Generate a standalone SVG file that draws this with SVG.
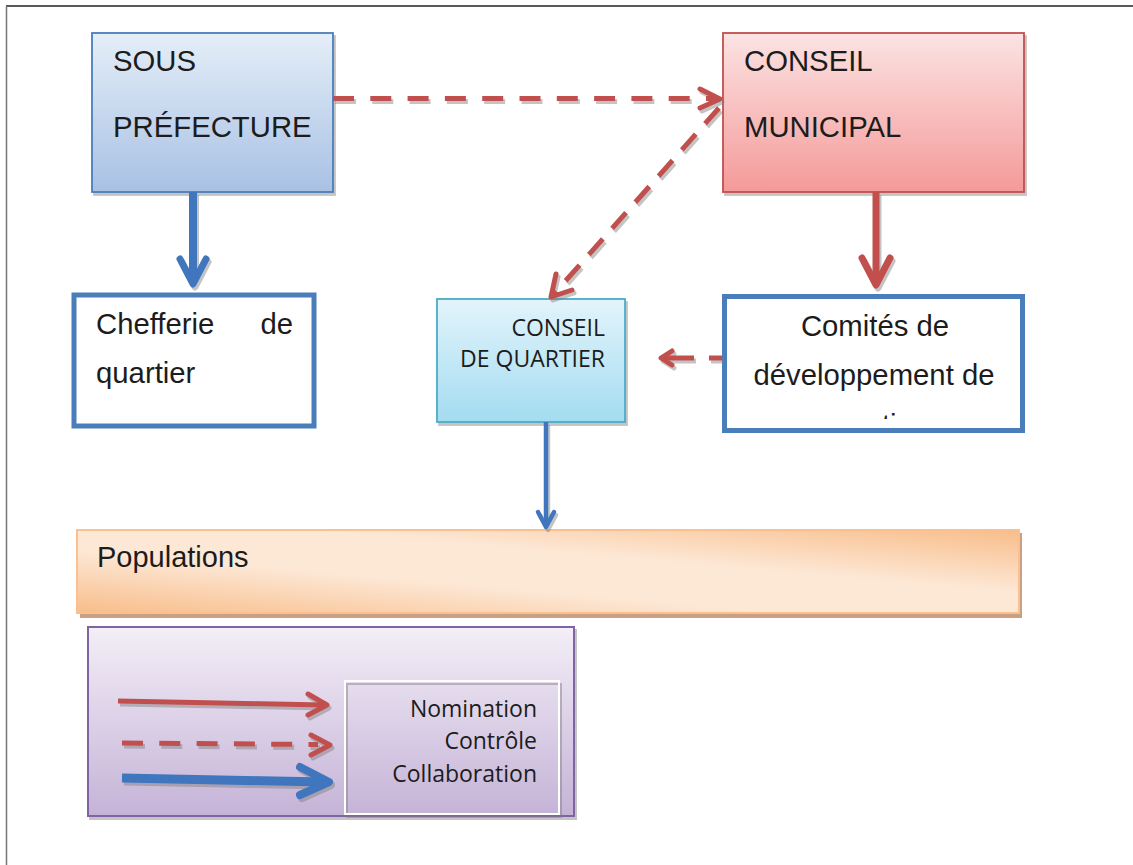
<svg xmlns="http://www.w3.org/2000/svg" width="1133" height="865" viewBox="0 0 1133 865">
<defs>
  <linearGradient id="gBlue" x1="0" y1="0" x2="0" y2="1">
    <stop offset="0" stop-color="#e5eef8"/>
    <stop offset="1" stop-color="#a8c1e4"/>
  </linearGradient>
  <linearGradient id="gRed" x1="0" y1="0" x2="0" y2="1">
    <stop offset="0" stop-color="#fce3e3"/>
    <stop offset="1" stop-color="#f49a99"/>
  </linearGradient>
  <linearGradient id="gCyan" x1="0" y1="0" x2="0" y2="1">
    <stop offset="0" stop-color="#e3f4fb"/>
    <stop offset="1" stop-color="#a3dcf1"/>
  </linearGradient>
  <linearGradient id="gPurple" x1="0" y1="0" x2="0" y2="1">
    <stop offset="0" stop-color="#f3eef7"/>
    <stop offset="1" stop-color="#c5b3d7"/>
  </linearGradient>
  <linearGradient id="gOrange" x1="0" y1="1" x2="1" y2="0">
    <stop offset="0" stop-color="#f8bd8a"/>
    <stop offset="0.38" stop-color="#fde8d6"/>
    <stop offset="0.62" stop-color="#fde8d6"/>
    <stop offset="1" stop-color="#f8bd8a"/>
  </linearGradient>
  <filter id="sh" x="-10%" y="-10%" width="130%" height="140%">
    <feDropShadow dx="2" dy="3" stdDeviation="0.6" flood-color="#7a7a7a" flood-opacity="0.45"/>
  </filter>
  <clipPath id="clipCom">
    <rect x="727" y="299" width="293" height="120"/>
  </clipPath>
</defs>
<style>
  .txt { font-family: "Liberation Sans", Arial, sans-serif; font-size: 29.3px; fill: #1c1c1c; }
  .cal { font-family: "Open Sans", "Noto Sans", sans-serif; font-size: 23px; fill: #1c1c1c; }
  .leg { font-family: "Open Sans", "Noto Sans", sans-serif; font-size: 23px; fill: #1c1c1c; }
  .r { stroke: #c0504d; fill: none; }
  .b { stroke: #3f76bd; fill: none; }
  .dash { stroke-dasharray: 21 16.3; }
  .head { stroke-linecap: round; stroke-linejoin: round; fill: none; }
  .sh { filter: url(#sh); }
</style>

<g id="frame">
  <line x1="6" y1="6" x2="1133" y2="6" stroke="#222" stroke-width="1.5"/>
  <line x1="6.5" y1="6" x2="6.5" y2="865" stroke="#777" stroke-width="1.5"/>
</g>

<g id="sous-prefecture">
  <rect x="92" y="33" width="241" height="159" fill="url(#gBlue)" stroke="#4a7ebb" stroke-width="1.8" class="sh"/>
  <text class="txt" x="113" y="71">SOUS</text>
  <text class="txt" x="113" y="137">PRÉFECTURE</text>
</g>

<g id="conseil-municipal">
  <rect x="723" y="33" width="301" height="159" fill="url(#gRed)" stroke="#c0504d" stroke-width="1.8" class="sh"/>
  <text class="txt" x="744" y="71">CONSEIL</text>
  <text class="txt" x="744" y="137">MUNICIPAL</text>
</g>

<g id="chefferie">
  <rect x="74" y="295" width="240" height="131" fill="#ffffff" stroke="#4a7ebb" stroke-width="5"/>
  <text class="txt" x="96" y="334">Chefferie</text>
  <text class="txt" x="293" y="334" text-anchor="end">de</text>
  <text class="txt" x="96" y="383">quartier</text>
</g>

<g id="conseil-quartier">
  <rect x="437" y="299" width="188" height="123" fill="url(#gCyan)" stroke="#4bacc6" stroke-width="1.8" class="sh"/>
  <text class="cal" x="605" y="336" text-anchor="end">CONSEIL</text>
  <text class="cal" x="605" y="367" text-anchor="end">DE QUARTIER</text>
</g>

<g id="comites">
  <rect x="724.5" y="296.5" width="298" height="134" fill="#ffffff" stroke="#4a7ebb" stroke-width="5"/>
  <text class="txt" x="875" y="336" text-anchor="middle">Comités de</text>
  <text class="txt" x="874" y="385" text-anchor="middle">développement de</text>
  <text class="txt" x="873" y="435" text-anchor="middle" clip-path="url(#clipCom)">quartier</text>
</g>

<g id="populations">
  <rect x="80" y="533" width="942" height="85" fill="#c9a083"/>
  <rect x="77" y="530" width="942" height="83" fill="url(#gOrange)" stroke="#fac090" stroke-width="2"/>
  <text class="txt" x="97" y="567" style="font-size:29px">Populations</text>
</g>

<g id="legend">
  <rect x="88" y="627" width="486" height="189" fill="url(#gPurple)" stroke="#8064a2" stroke-width="2" class="sh"/>
  <rect x="345" y="681" width="214" height="133" fill="none" stroke="#ffffff" stroke-width="2" class="sh"/>
  <text class="leg" x="537" y="717" text-anchor="end">Nomination</text>
  <text class="leg" x="537" y="749" text-anchor="end">Contrôle</text>
  <text class="leg" x="537" y="782" text-anchor="end">Collaboration</text>
  <g class="sh">
    <line x1="118" y1="701" x2="324" y2="705" class="r" stroke-width="5"/>
    <polyline points="308,694 327,705 308,715" class="r head" stroke-width="5"/>
    <line x1="122" y1="743" x2="318" y2="744.5" class="r dash" stroke-width="5"/>
    <polyline points="311,735 330,745 311,755" class="r head" stroke-width="5"/>
    <line x1="122" y1="778" x2="326" y2="782" class="b" stroke-width="9"/>
    <polyline points="300,767 329,782 300,795" class="b head" stroke-width="8"/>
  </g>
</g>

<g id="connectors" class="sh">
  <!-- Sous-Préfecture -> Conseil Municipal (contrôle) -->
  <line x1="333" y1="98.5" x2="716" y2="98.5" class="r dash" stroke-width="5"/>
  <polyline points="700,89 720,99 700,108" class="r head" stroke-width="5"/>
  <!-- Conseil Municipal -> Conseil de quartier (contrôle) -->
  <line x1="719" y1="108" x2="553" y2="295" class="r dash" stroke-width="5" style="stroke-dasharray:21 14"/>
  <polyline points="556,274 551,297 572,290" class="r head" stroke-width="5"/>
  <!-- Comités -> Conseil de quartier (contrôle) -->
  <line x1="722" y1="358" x2="709" y2="358" class="r" stroke-width="5"/>
  <line x1="694" y1="358" x2="664" y2="358" class="r" stroke-width="5"/>
  <polyline points="672,351 661,358 672,365" class="r head" stroke-width="5"/>
  <!-- Sous-Préfecture -> Chefferie (collaboration) -->
  <line x1="193" y1="192" x2="193" y2="282" class="b" stroke-width="8"/>
  <polyline points="180,259 193,284 206,259" class="b head" stroke-width="7"/>
  <!-- Conseil Municipal -> Comités (nomination) -->
  <line x1="876" y1="192" x2="876" y2="283" class="r" stroke-width="7"/>
  <polyline points="862,258 876,285 890,258" class="r head" stroke-width="7"/>
  <!-- Conseil de quartier -> Populations (collaboration) -->
  <line x1="546" y1="422" x2="546" y2="526" class="b" stroke-width="4.5"/>
  <polyline points="538,512 546,527 554,512" class="b head" stroke-width="4.5"/>
</g>
</svg>
